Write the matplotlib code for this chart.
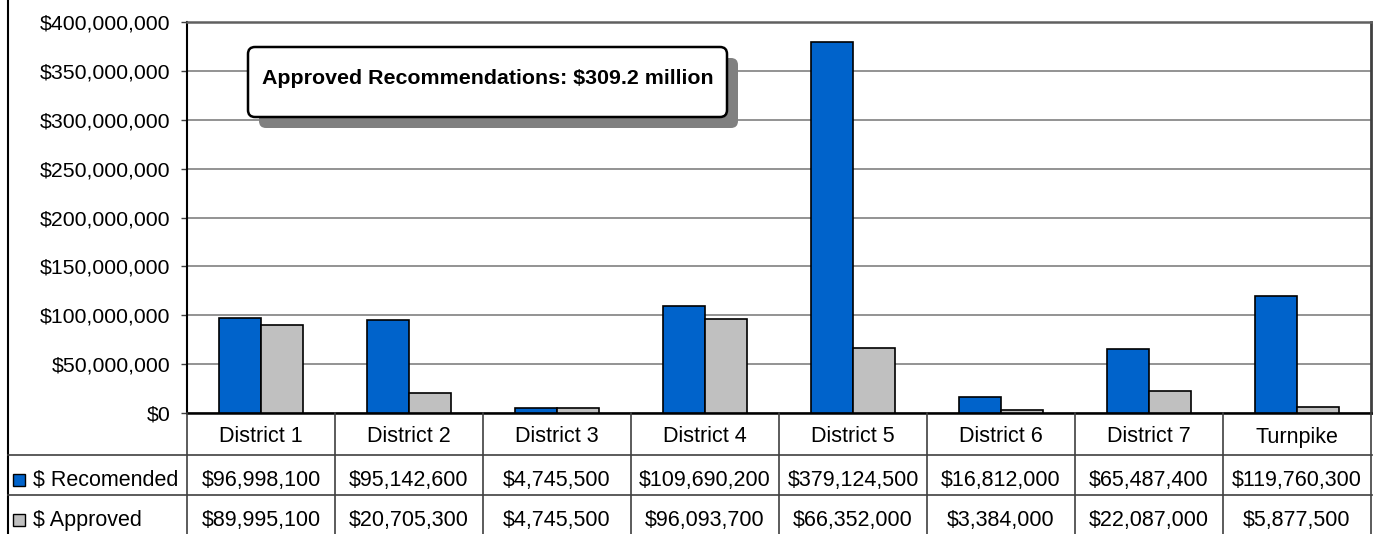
import matplotlib
matplotlib.use("Agg")
import matplotlib.pyplot as plt
from matplotlib.patches import FancyBboxPatch, Rectangle
from matplotlib.lines import Line2D
from matplotlib.ticker import FuncFormatter
import numpy as np

plt.rcParams['font.family'] = ['Liberation Sans', 'DejaVu Sans']

categories = ["District 1", "District 2", "District 3", "District 4",
              "District 5", "District 6", "District 7", "Turnpike"]
recommended = [96998100, 95142600, 4745500, 109690200,
               379124500, 16812000, 65487400, 119760300]
approved = [89995100, 20705300, 4745500, 96093700,
            66352000, 3384000, 22087000, 5877500]
series_names = ["$ Recomended", "$ Approved"]
annotation = "Approved Recommendations: $309.2 million"
yticks = list(range(0, 400000001, 50000000))

BLUE = "#0063CB"
GREY = "#C0C0C0"

W, H = 1374, 534
fig = plt.figure(figsize=(W / 100, H / 100), dpi=100)

# main bar axes
L, R, T, B = 187, 1371, 22, 413
ax = fig.add_axes([L / W, 1 - B / H, (R - L) / W, (B - T) / H])
x = np.arange(len(categories))
w = 0.284
ax.bar(x - w / 2, recommended, w, color=BLUE, edgecolor="black", linewidth=1.2, zorder=3)
ax.bar(x + w / 2, approved, w, color=GREY, edgecolor="black", linewidth=1.2, zorder=3)
ax.set_xlim(-0.5, len(categories) - 0.5)
ax.set_ylim(0, 400000000)
ax.set_yticks(yticks)
ax.yaxis.set_major_formatter(FuncFormatter(lambda v, p: "${:,.0f}".format(v)))
ax.set_xticks([])
ax.grid(axis="y", color="#808080", linewidth=1.2, zorder=0)
ax.set_axisbelow(True)
ax.tick_params(axis="y", length=4.3, width=1, color="#404040", pad=7.6, labelsize=15.3)
ax.spines["left"].set_color("black")
ax.spines["left"].set_linewidth(1.5)
ax.spines["bottom"].set_color("black")
ax.spines["bottom"].set_linewidth(1.8)
ax.spines["top"].set_color("#606060")
ax.spines["top"].set_linewidth(1.8)
ax.spines["right"].set_color("#404040")
ax.spines["right"].set_linewidth(2)

# overlay in pixel coordinates for table & annotation
ov = fig.add_axes([0, 0, 1, 1], zorder=5)
ov.set_xlim(0, W)
ov.set_ylim(H, 0)
ov.axis("off")
ov.patch.set_alpha(0)

def col_px(v):
    return ax.transData.transform((v, 0))[0]

LINE_C = "#404040"
# left border
ov.add_line(Line2D([8, 8], [0, H], color="black", linewidth=1.5))
# horizontal table lines
for yy in (455, 495):
    ov.add_line(Line2D([8, R + 1], [yy, yy], color=LINE_C, linewidth=1.2))
# vertical column separators
for i in range(len(categories) + 1):
    xp = col_px(i - 0.5)
    ov.add_line(Line2D([xp, xp], [B, H], color=LINE_C, linewidth=1.2))

fs = 15.5
row_y = [434.5, 478, 518]
for i, cat in enumerate(categories):
    xc = col_px(i)
    ov.text(xc, row_y[0], cat, ha="center", va="center_baseline", fontsize=fs)
    ov.text(xc, row_y[1], "${:,.0f}".format(recommended[i]), ha="center", va="center_baseline", fontsize=fs)
    ov.text(xc, row_y[2], "${:,.0f}".format(approved[i]), ha="center", va="center_baseline", fontsize=fs)

# legend keys
for yc, name, col in ((row_y[1], series_names[0], BLUE), (row_y[2], series_names[1], GREY)):
    ov.add_patch(Rectangle((13, yc - 4), 12, 12, facecolor=col, edgecolor="black", linewidth=1))
    ov.text(33, yc, name, ha="left", va="center_baseline", fontsize=fs)

# annotation box with shadow
bx0, by0, bx1, by1 = 248, 47, 727, 117
off = 11
ov.add_patch(FancyBboxPatch((bx0 + off, by0 + off), bx1 - bx0, by1 - by0,
                            boxstyle="round,pad=0,rounding_size=7",
                            facecolor="#808080", edgecolor="none"))
ov.add_patch(FancyBboxPatch((bx0, by0), bx1 - bx0, by1 - by0,
                            boxstyle="round,pad=0,rounding_size=7",
                            facecolor="white", edgecolor="black", linewidth=1.8))
ov.text((bx0 + bx1) / 2, 79, annotation, ha="center", va="center",
        fontsize=15.4, fontweight="bold")

fig.savefig("out.png", dpi=100)
